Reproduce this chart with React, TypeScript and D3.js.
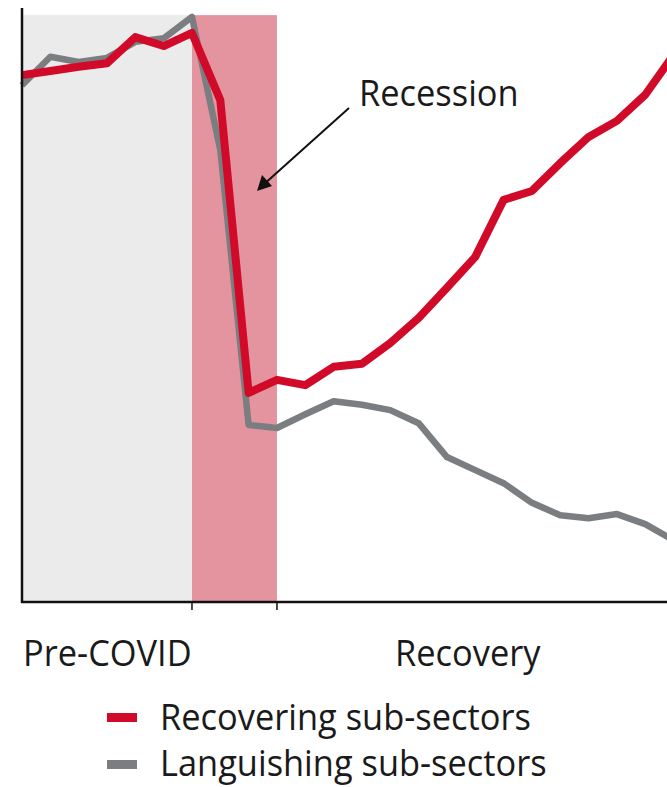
import React from "react";
import * as d3 from "d3";

// Index level of output by sub-sector group, one point per period
const periods = d3.range(24);
const recovering = [88.7, 89.4, 90.1, 90.7, 95.1, 93.6, 95.8, 84.5, 35.2, 37.4, 36.5, 39.6, 40.1, 43.6, 47.8, 52.9, 58.1, 67.7, 69.2, 73.9, 78.3, 81.0, 85.4, 92.1];
const languishing = [87.0, 91.8, 90.9, 91.6, 94.3, 94.9, 98.5, 76.1, 29.8, 29.3, 31.6, 33.8, 33.2, 32.3, 30.1, 24.4, 22.2, 20.0, 16.7, 14.6, 14.1, 14.8, 13.1, 10.4];

// Phases of the cycle (period indices)
const preCovidPhase = [0, 6];
const recessionPhase = [6, 9];
const phaseTicks = [6, 9];
const phaseLabels = ["Pre-COVID", "Recovery"];

const seriesNames = ["Recovering sub-sectors", "Languishing sub-sectors"];
const seriesColors = ["#d10a2a", "#7b7e81"];

const W = 667;
const H = 787;
const FONT = "'Open Sans', 'DejaVu Sans', sans-serif";
const FS = 37;
const SX = 0.93;

function Label({ x, y, children }: { x: number; y: number; children: React.ReactNode }) {
  return (
    <text transform={`translate(${x},${y}) scale(${SX},1)`} fontSize={FS} fill="#1a1a1a">
      {children}
    </text>
  );
}

export default function App() {
  const x = d3.scaleLinear().domain([0, 23]).range([22, 22 + 23 * 28.33]);
  const y = d3.scaleLinear().domain([0, 100]).range([602, 8]);
  const line = d3
    .line<number>()
    .x((_, i) => x(periods[i]))
    .y((d) => y(d));

  const axisY = y(0);
  const top = y(98.8);

  return (
    <svg
      width={W}
      height={H}
      style={{ position: "absolute", left: 0, top: 0, background: "#fff" }}
      fontFamily={FONT}
    >
      {/* phase shading */}
      <rect
        x={x(preCovidPhase[0])}
        y={top}
        width={x(preCovidPhase[1]) - x(preCovidPhase[0])}
        height={axisY - top}
        fill="#ebebeb"
      />
      <rect
        x={x(recessionPhase[0])}
        y={top}
        width={x(recessionPhase[1]) - x(recessionPhase[0])}
        height={axisY - top}
        fill="#e4949e"
      />

      {/* series */}
      <path d={line(languishing) ?? ""} fill="none" stroke={seriesColors[1]} strokeWidth={6.5} strokeLinejoin="round" />
      <path d={line(recovering) ?? ""} fill="none" stroke={seriesColors[0]} strokeWidth={8} strokeLinejoin="round" />

      {/* axes */}
      <line x1={x(0)} x2={x(0)} y1={y(100)} y2={axisY + 1} stroke="#111" strokeWidth={2.5} />
      <line x1={x(0) - 1} x2={W} y1={axisY} y2={axisY} stroke="#111" strokeWidth={2.5} />
      {phaseTicks.map((t) => (
        <line key={t} x1={x(t)} x2={x(t)} y1={axisY} y2={axisY + 8} stroke="#111" strokeWidth={1.5} />
      ))}

      {/* phase labels */}
      <Label x={x(0) + 1} y={666}>{phaseLabels[0]}</Label>
      <Label x={395} y={666}>{phaseLabels[1]}</Label>

      {/* recession annotation */}
      <line x1={349} y1={108} x2={262} y2={186} stroke="#111" strokeWidth={2} />
      <path d="M257,191 L262,175 L272,186 Z" fill="#111" />
      <Label x={359} y={106}>Recession</Label>

      {/* legend */}
      {seriesNames.map((name, i) => (
        <g key={name}>
          <rect x={107} y={713 + i * 47} width={30} height={9} fill={seriesColors[i]} />
          <Label x={160} y={730 + i * 46}>{name}</Label>
        </g>
      ))}
    </svg>
  );
}
